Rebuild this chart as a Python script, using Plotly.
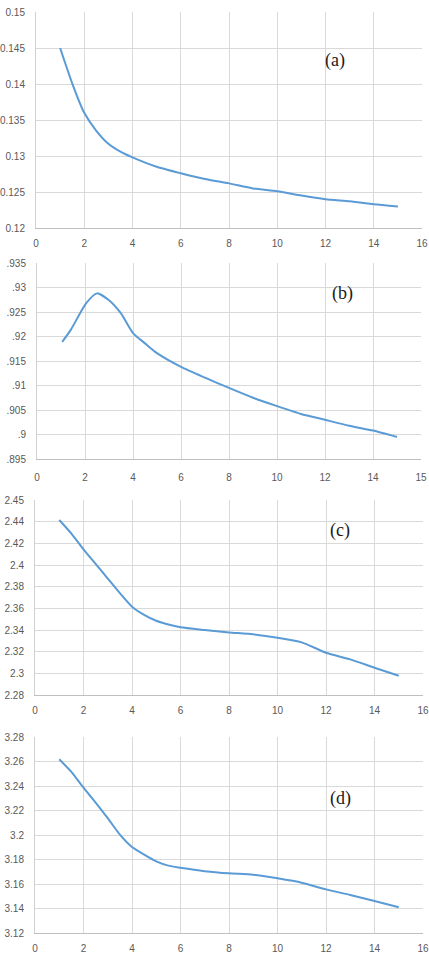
import plotly.graph_objects as go

W, H = 429, 970

# ---------------- data ----------------
x_a = [1, 1.5, 2, 2.5, 3, 3.5, 4, 5, 6, 7, 8, 9, 10, 11, 12, 13, 14, 15]
y_a = [0.1450, 0.1401, 0.1360, 0.1335, 0.1317, 0.1306, 0.1298, 0.1285, 0.1276,
       0.1268, 0.1262, 0.1255, 0.1251, 0.1245, 0.1240, 0.1237, 0.1233, 0.1230]

x_b = [1.05, 1.4, 2.05, 2.5, 3.0, 3.5, 4, 4.5, 5, 6, 7, 8, 9, 10, 11, 12, 13, 14, 15]
y_b = [0.9189, 0.9213, 0.9268, 0.9288, 0.9274, 0.9247, 0.9207, 0.9186, 0.9166, 0.9138,
       0.9116, 0.9095, 0.9075, 0.9058, 0.9042, 0.9030, 0.9018, 0.9008, 0.8995]

x_c = [1, 1.5, 2, 2.5, 3, 3.5, 4, 4.5, 5, 5.5, 6, 7, 8, 9, 10, 11, 12, 13, 14, 15]
y_c = [2.4415, 2.4290, 2.4145, 2.4010, 2.3875, 2.3740, 2.3615, 2.3540, 2.3485,
       2.3450, 2.3425, 2.3400, 2.3378, 2.3360, 2.3329, 2.3286, 2.3190, 2.3129,
       2.3052, 2.2978]

x_d = [1, 1.5, 2, 2.5, 3, 3.5, 4, 4.5, 5, 5.5, 6, 7, 8, 9, 10, 11, 12, 13, 14, 15]
y_d = [3.2618, 3.2515, 3.2386, 3.2265, 3.2137, 3.2003, 3.1902, 3.1840, 3.1785,
       3.1750, 3.1733, 3.1705, 3.1687, 3.1676, 3.1646, 3.1610, 3.1556, 3.1510,
       3.1461, 3.1410]

xticks = [0, 2, 4, 6, 8, 10, 12, 14, 16]
xtext = ["0", "2", "4", "6", "8", "10", "12", "14", "16"]
xtext_b = ["0", "2", "4", "6", "8", "10", "12", "14", "15"]

yticks_a = [0.12, 0.125, 0.13, 0.135, 0.14, 0.145, 0.15]
ytext_a = ["0.12", "0.125", "0.13", "0.135", "0.14", "0.145", "0.15"]

yticks_b = [0.895, 0.9, 0.905, 0.91, 0.915, 0.92, 0.925, 0.93, 0.935]
ytext_b = [".895", ".9", ".905", ".91", ".915", ".92", ".925", ".93", ".935"]

yticks_c = [2.28, 2.30, 2.32, 2.34, 2.36, 2.38, 2.40, 2.42, 2.44, 2.46]
ytext_c = ["2.28", "2.3", "2.32", "2.34", "2.36", "2.38", "2.4", "2.42", "2.44", "2.45"]

yticks_d = [3.12, 3.14, 3.16, 3.18, 3.20, 3.22, 3.24, 3.26, 3.28]
ytext_d = ["3.12", "3.14", "3.16", "3.18", "3.2", "3.22", "3.24", "3.26", "3.28"]

labels = ["(a)", "(b)", "(c)", "(d)"]

# ---------------- layout helpers ----------------
def xdom(l, r):
    return [l / W, r / W]

def ydom(t, b):
    return [1 - b / H, 1 - t / H]

LINE = "#5B9BD5"
GRID = "#D9D9D9"
TICKFONT = dict(family="Liberation Sans Narrow, Liberation Sans, Arial", size=10, color="#595959")

fig = go.Figure()

series = [(x_a, y_a), (x_b, y_b), (x_c, y_c), (x_d, y_d)]
for i, (xs, ys) in enumerate(series):
    sfx = "" if i == 0 else str(i + 1)
    fig.add_trace(go.Scatter(x=xs, y=ys, mode="lines", xaxis="x" + sfx, yaxis="y" + sfx,
                             line=dict(color=LINE, width=2, shape="spline", smoothing=0.6),
                             showlegend=False, hoverinfo="skip"))

panels = [
    dict(x=(36, 422), y=(12, 228), yr=[0.12, 0.15], yt=yticks_a, ytt=ytext_a, xtt=xtext, sa=6),
    dict(x=(37, 421), y=(263, 459), yr=[0.895, 0.935], yt=yticks_b, ytt=ytext_b, xtt=xtext_b, sa=9),
    dict(x=(35, 423), y=(500, 695), yr=[2.28, 2.46], yt=yticks_c, ytt=ytext_c, xtt=xtext, sa=6),
    dict(x=(35, 423), y=(737, 933), yr=[3.12, 3.28], yt=yticks_d, ytt=ytext_d, xtt=xtext, sa=6),
]

layout = {}
for i, p in enumerate(panels):
    sfx = "" if i == 0 else str(i + 1)
    layout["xaxis" + sfx] = dict(
        domain=xdom(*p["x"]), range=[0, 16], anchor="y" + sfx,
        tickvals=xticks, ticktext=p["xtt"],
        showgrid=True, gridcolor=GRID, gridwidth=1,
        showline=True, linecolor="#BFBFBF", linewidth=1,
        zeroline=False, ticks="", tickfont=TICKFONT, ticklabelstandoff=p["sa"],
        automargin=False, fixedrange=True,
    )
    layout["yaxis" + sfx] = dict(
        domain=ydom(*p["y"]), range=p["yr"], anchor="x" + sfx,
        tickvals=p["yt"], ticktext=p["ytt"],
        showgrid=True, gridcolor=GRID, gridwidth=1,
        showline=True, linecolor="#D0D0D0", linewidth=1,
        zeroline=False, ticks="", tickfont=TICKFONT, ticklabelstandoff=8,
        automargin=False, fixedrange=True,
    )

ann_pos = [(335, 60), (342, 293), (340, 530), (340, 798)]
annotations = []
for lab, (ax, ay) in zip(labels, ann_pos):
    annotations.append(dict(text=lab, x=ax / W, y=1 - ay / H, xref="paper", yref="paper",
                            showarrow=False, xanchor="center", yanchor="middle",
                            font=dict(family="Liberation Serif, Times New Roman, serif",
                                      size=18, color="#1a1a1a")))

fig.update_layout(
    width=W, height=H, margin=dict(l=0, r=0, t=0, b=0),
    paper_bgcolor="white", plot_bgcolor="rgba(0,0,0,0)",
    template="none", annotations=annotations, **layout,
)

fig.write_html("out.html", config={"displayModeBar": False})
